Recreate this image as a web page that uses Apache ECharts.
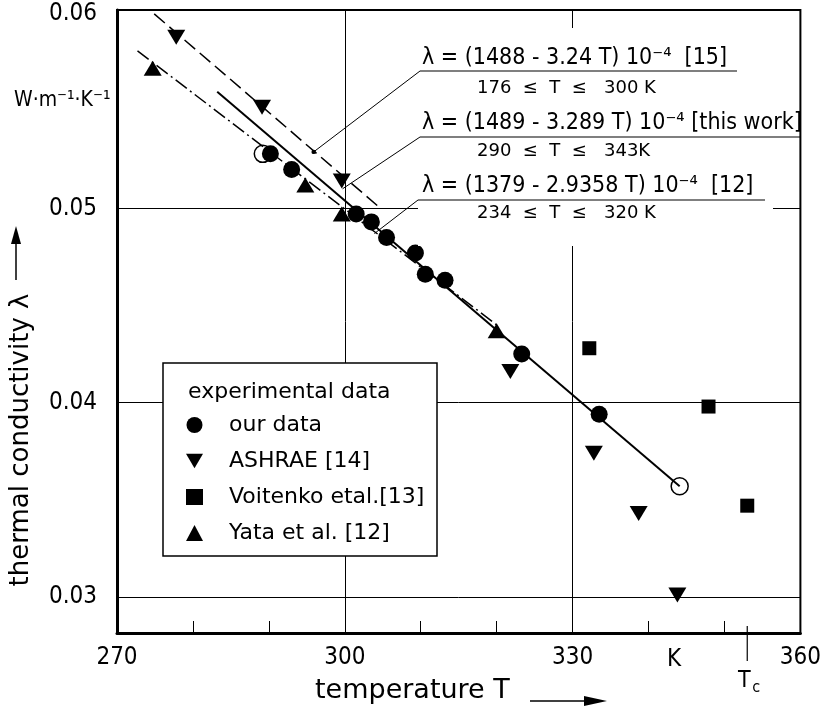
<!DOCTYPE html>
<html>
<head>
<meta charset="utf-8">
<script src="https://cdn.jsdelivr.net/npm/echarts@6/dist/echarts.min.js"></script>
<style>
  html, body { margin: 0; padding: 0; background: #fff; }
  #main { width: 824px; height: 714px; }
</style>
</head>
<body>
<div id="main"></div>
<script>
// axis ticks and labels
const xLabelValues = [270, 300, 330, 360];
const xMinorTicks = [280, 290, 310, 320, 340, 350];
const yTickValues = [0.03, 0.04, 0.05, 0.06];
const yTickLabels = ['0.03', '0.04', '0.05', '0.06'];
const gridX = [300, 330];
const gridY = [0.03, 0.04, 0.05];
const Tc = 353;

// our data (filled) and the two open circles
const ourT = [290.2, 293.0, 301.5, 303.5, 305.5, 309.3, 310.6, 313.2, 323.3, 333.5];
const ourL = [0.0528, 0.0520, 0.0497, 0.0493, 0.0485, 0.0477, 0.0466, 0.0463, 0.0425, 0.0394];
const openT = [289.2, 344.1];
const openL = [0.0528, 0.0357];

// ASHRAE [14]
const ashT = [277.8, 289.1, 299.6, 321.8, 332.8, 338.7, 343.8];
const ashL = [0.0588, 0.0552, 0.0514, 0.0416, 0.0374, 0.0343, 0.0301];

// Voitenko et al. [13]
const voiT = [332.2, 347.9, 353.0];
const voiL = [0.0428, 0.0398, 0.0347];

// Yata et al. [12]
const yataT = [274.7, 294.8, 299.6, 320.0];
const yataL = [0.0572, 0.0512, 0.0497, 0.0437];

// correlation lines (end points)
const line15T = [274.9, 304.4];
const line15L = [0.0600, 0.0501];
const lineThisT = [283.2, 344.1];
const lineThisL = [0.0560, 0.0357];
const line12T = [272.7, 320.0];
const line12L = [0.0581, 0.0440];

const FONT = '"DejaVu Sans Condensed", "Liberation Sans Narrow", "DejaVu Sans", sans-serif';
const FONT_W = '"DejaVu Sans", sans-serif';
const zip = (a, b) => a.map((v, i) => [v, b[i]]);
const DOWN_TRI = 'path://M0,0L20,0L10,17Z';

const chart = echarts.init(document.getElementById('main'));

chart.setOption({
  animation: false,
  backgroundColor: '#fff',
  grid: { left: 117, right: 20, top: 10, bottom: 81, show: true, borderColor: '#000', borderWidth: 2 },
  xAxis: {
    type: 'value', min: 270, max: 360, interval: 10,
    axisLine: { onZero: false, lineStyle: { color: '#000', width: 3 } },
    axisTick: { inside: true, length: 12, customValues: xMinorTicks, lineStyle: { color: '#000', width: 1 } },
    axisLabel: { customValues: xLabelValues, color: '#000', fontFamily: FONT, fontSize: 24, margin: 13 },
    splitLine: { show: false }
  },
  yAxis: {
    type: 'value', min: 0.02815, max: 0.0602,
    axisLine: { lineStyle: { color: '#000', width: 3 } },
    axisTick: { show: false },
    axisLabel: {
      customValues: yTickValues, color: '#000', fontFamily: FONT, fontSize: 24, margin: 20,
      formatter: v => yTickLabels[yTickValues.findIndex(t => Math.abs(t - v) < 1e-6)] || ''
    },
    splitLine: { show: false }
  },
  legend: {
    orient: 'vertical', left: 186, top: 414, padding: 0, z: 20,
    itemWidth: 17, itemHeight: 16, itemGap: 14,
    textStyle: { color: '#000', fontFamily: FONT_W, fontSize: 22, lineHeight: 22, padding: [0, 0, 0, 21] },
    data: [
      { name: 'our data', icon: 'circle' },
      { name: 'ASHRAE [14]', icon: DOWN_TRI },
      { name: 'Voitenko etal.[13]', icon: 'rect' },
      { name: 'Yata et al. [12]', icon: 'triangle' }
    ]
  },
  series: [
    {
      name: 'ref15', type: 'line', symbol: 'none', silent: true,
      data: zip(line15T, line15L),
      lineStyle: { color: '#000', width: 1.5, type: [14, 6] },
      markLine: {
        silent: true, symbol: ['none', 'none'], label: { show: false },
        lineStyle: { color: '#000', width: 1, type: 'solid' },
        data: gridX.map(v => ({ xAxis: v })).concat(gridY.map(v => ({ yAxis: v })))
      }
    },
    {
      name: 'this work', type: 'line', symbol: 'none', silent: true,
      data: zip(lineThisT, lineThisL),
      lineStyle: { color: '#000', width: 2 }
    },
    {
      name: 'ref12', type: 'line', symbol: 'none', silent: true,
      data: zip(line12T, line12L),
      lineStyle: { color: '#000', width: 1.5, type: [14, 4, 2, 4] }
    },
    {
      name: 'ASHRAE [14]', type: 'scatter', symbol: DOWN_TRI, symbolSize: [18, 15],
      itemStyle: { color: '#000', opacity: 1 },
      data: zip(ashT, ashL)
    },
    {
      name: 'Voitenko etal.[13]', type: 'scatter', symbol: 'rect', symbolSize: 14,
      itemStyle: { color: '#000', opacity: 1 },
      data: zip(voiT, voiL)
    },
    {
      name: 'Yata et al. [12]', type: 'scatter', symbol: 'triangle', symbolSize: [18, 15],
      itemStyle: { color: '#000', opacity: 1 },
      data: zip(yataT, yataL)
    },
    {
      name: 'our data', type: 'scatter', symbol: 'circle', symbolSize: 17,
      itemStyle: { color: '#000', opacity: 1 },
      data: zip(openT, openL).map(p => ({
        value: p, itemStyle: { color: '#fff', borderColor: '#000', borderWidth: 1.5, opacity: 1 }
      })).concat(zip(ourT, ourL))
    }
  ]
});

// annotations
const px = (t, l) => chart.convertToPixel({ gridIndex: 0 }, [t, l]);
const end1 = px(295.9, 0.0529);
const end2 = px(299.7, 0.0510);
const end3 = px(303.9, 0.0487);
const tcX = px(Tc, 0.04)[0];

const txt = (text, x, y, size, extra, family) => ({
  type: 'text', x: x, y: y, z: 12,
  style: Object.assign({ text: text, fill: '#000', fontFamily: family || FONT, fontSize: size,
    align: 'left', verticalAlign: 'middle' }, extra || {})
});
const seg = (x1, y1, x2, y2, w) => ({
  type: 'line', z: 12, shape: { x1: x1, y1: y1, x2: x2, y2: y2 },
  style: { stroke: '#000', lineWidth: w || 1 }
});

chart.setOption({
  graphic: [
    // white area behind the formulas
    { type: 'rect', z: 10, shape: { x: 418, y: 28, width: 355, height: 218 }, style: { fill: '#fff' } },
    txt('λ = (1488 - 3.24 T) 10⁻⁴  [15]', 422, 58, 23),
    seg(420, 71, 737, 71, 1.2),
    txt('176  ≤  T  ≤   300 K', 477, 88, 18, null, FONT_W),
    txt('λ = (1489 - 3.289 T) 10⁻⁴ [this work]', 422, 123, 23),
    seg(420, 137, 800, 137, 1.2),
    txt('290  ≤  T  ≤   343K', 477, 151, 18, null, FONT_W),
    txt('λ = (1379 - 2.9358 T) 10⁻⁴  [12]', 422, 186, 23),
    seg(418, 200, 765, 200, 1.2),
    txt('234  ≤  T  ≤   320 K', 477, 213, 18, null, FONT_W),
    // leader lines
    seg(420, 71, end1[0], end1[1], 1),
    { type: 'circle', z: 12, shape: { cx: end1[0], cy: end1[1], r: 2.2 }, style: { fill: '#000' } },
    seg(420, 137, end2[0], end2[1], 1),
    seg(418, 200, end3[0], end3[1], 1),
    // legend frame
    { type: 'rect', z: 10, shape: { x: 163, y: 363, width: 274, height: 193 },
      style: { fill: '#fff', stroke: '#000', lineWidth: 1.5 } },
    txt('experimental data', 188, 392, 22, null, FONT_W),
    // unit
    txt('W·m⁻¹·K⁻¹', 14, 101, 21),
    // y axis title and arrow
    { type: 'text', x: 21, y: 440, rotation: Math.PI / 2, z: 12,
      style: { text: 'thermal conductivity λ', fill: '#000', fontFamily: FONT_W, fontSize: 26,
        align: 'center', verticalAlign: 'middle' } },
    seg(16, 280, 16, 238, 1.5),
    { type: 'polygon', z: 12, shape: { points: [[11, 244], [16, 226], [21, 244]] }, style: { fill: '#000' } },
    // x axis title and arrow
    txt('temperature T', 315, 691, 27, null, FONT_W),
    seg(530, 701, 590, 701, 1.5),
    { type: 'polygon', z: 12, shape: { points: [[584, 696], [607, 701], [584, 706]] }, style: { fill: '#000' } },
    // unit on x axis and critical temperature
    txt('K', 674, 660, 24, { align: 'center' }),
    seg(tcX, 626, tcX, 661, 1.2),
    txt('T', tcX - 3, 681, 23, { align: 'center' }),
    txt('c', tcX + 5, 688, 16, { align: 'left' })
  ]
});
</script>
</body>
</html>
